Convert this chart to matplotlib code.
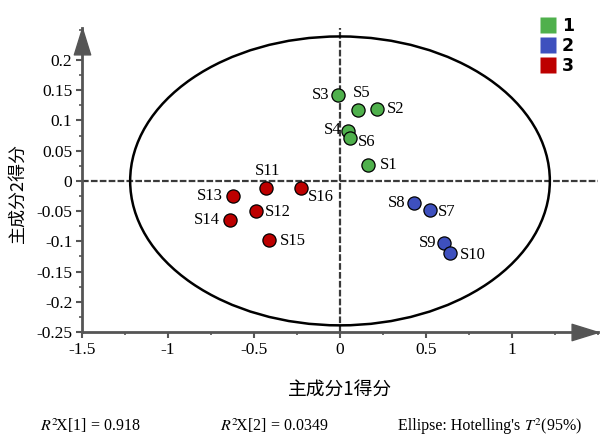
import matplotlib
matplotlib.use("Agg")
import matplotlib.pyplot as plt
from matplotlib.lines import Line2D
from matplotlib.patches import Ellipse
from matplotlib.ticker import MultipleLocator

plt.rcParams['font.family'] = ['Liberation Serif', 'Noto Sans CJK SC']
plt.rcParams['mathtext.fontset'] = 'stix'

# PCA scores
samples = ["S1", "S2", "S3", "S4", "S5", "S6", "S7", "S8",
           "S9", "S10", "S11", "S12", "S13", "S14", "S15", "S16"]
groups = [1, 1, 1, 1, 1, 1, 2, 2, 2, 2, 3, 3, 3, 3, 3, 3]
pc1 = [0.163, 0.213, -0.013, 0.049, 0.107, 0.060, 0.524, 0.430,
       0.606, 0.639, -0.433, -0.489, -0.622, -0.641, -0.411, -0.228]
pc2 = [0.027, 0.119, 0.142, 0.082, 0.118, 0.071, -0.048, -0.036,
       -0.102, -0.119, -0.012, -0.049, -0.025, -0.065, -0.098, -0.011]
ellipse_w = 2.44
ellipse_h = 0.478
group_colors = {1: "#4fb04c", 2: "#3e50be", 3: "#bd0000"}

# label offsets in pixels (dx, dy, ha)
label_pos = {
    "S1": (12, 0, "left"), "S2": (10, 0, "left"), "S3": (-8, 0, "right"),
    "S4": (-7, 1, "right"), "S5": (-6, 17, "left"), "S6": (8, -4, "left"),
    "S7": (8, -2, "left"), "S8": (-8, 0, "right"), "S9": (-8, 0, "right"),
    "S10": (10, -2, "left"), "S11": (2, 17, "center"), "S12": (9, -1, "left"),
    "S13": (-10, 0, "right"), "S14": (-10, 0, "right"), "S15": (11, -1, "left"),
    "S16": (7, -9, "left"),
}

fig = plt.figure(figsize=(6, 4.34), dpi=100)
ax = fig.add_axes([82 / 600, 1 - 332 / 434, (598 - 82) / 600, (332 - 28) / 434])
ax.set_xlim(-1.5, 1.5)
ax.set_ylim(-0.25, 0.253)

ax.add_patch(Ellipse((0, 0), ellipse_w, ellipse_h, fill=False, ec="black", lw=1.8, zorder=2))
ax.axhline(0, color="#3a3a3a", lw=1.6, ls=(0, (3, 1)), zorder=1)
ax.axvline(0, color="#3a3a3a", lw=1.6, ls=(0, (3, 1)), zorder=1)

for s, g, x, y in zip(samples, groups, pc1, pc2):
    ax.scatter(x, y, s=90, color=group_colors[g], edgecolors="black", linewidths=0.9, zorder=4)
    dx, dy, ha = label_pos[s]
    ax.annotate(s, (x, y), xytext=(dx * 0.72, dy * 0.72), textcoords="offset points",
                ha=ha, va="center", fontsize=12, zorder=5)

for side in ["top", "right"]:
    ax.spines[side].set_visible(False)
for side in ["left", "bottom"]:
    ax.spines[side].set_color("#555555")
    ax.spines[side].set_linewidth(2)

ax.xaxis.set_minor_locator(MultipleLocator(0.25))
ax.yaxis.set_minor_locator(MultipleLocator(0.025))
xt = [-1.5, -1, -0.5, 0, 0.5, 1]
ax.set_xticks(xt)
ax.set_xticklabels([("%g" % v) for v in xt])
yt = [-0.25, -0.2, -0.15, -0.1, -0.05, 0, 0.05, 0.1, 0.15, 0.2]
ax.set_yticks(yt)
ax.set_yticklabels([("%g" % v) for v in yt])
ax.tick_params(which="major", length=4, width=1.5, color="#555555", labelsize=12.5, pad=3)
ax.tick_params(which="minor", length=2.5, width=1.2, color="#555555")

# arrow heads at the ends of the axes
head = [(0, 0), (-2, 0.62), (-2, -0.62), (0, 0)]
ax.plot([1], [0], transform=ax.transAxes, marker=head, markersize=38,
        color="#555555", clip_on=False, zorder=6)
head_up = [(0, 0), (-0.62, -2), (0.62, -2), (0, 0)]
ax.plot([0], [1], transform=ax.transAxes, marker=head_up, markersize=38,
        color="#555555", clip_on=False, zorder=6)

ax.set_xlabel("主成分1得分", family=["Noto Sans CJK SC"], fontsize=13.5, labelpad=15)
ax.set_ylabel("主成分2得分", family=["Noto Sans CJK SC"], fontsize=13)
ax.yaxis.set_label_coords(-0.108, 0.457)

handles = [Line2D([], [], marker="s", ls="none", markersize=12, markerfacecolor=group_colors[g],
                  markeredgecolor="none") for g in [1, 2, 3]]
fig.legend(handles, ["1", "2", "3"], loc="upper left", bbox_to_anchor=(0.874, 0.997),
           frameon=False, handlelength=0.9, handletextpad=0.35, labelspacing=0.12,
           prop={"family": "DejaVu Sans", "weight": "bold", "size": 12.5})

ty = 1 - 426 / 434
fig.text(40 / 600, ty, r"$R^2\!$X[1] = 0.918", fontsize=11.5, va="center")
fig.text(220 / 600, ty, r"$R^2\!$X[2] = 0.0349", fontsize=11.5, va="center")
tb = 1 - 430 / 434
t1 = fig.text(398 / 600, tb, "Ellipse: Hotelling's ", fontsize=11.5, va="baseline")
fig.canvas.draw()
bb = t1.get_window_extent()
fig.text(bb.x1 / 600, tb, r"$T^2$(95%)", fontsize=11.5, va="baseline")

fig.savefig("out.png", dpi=100)
